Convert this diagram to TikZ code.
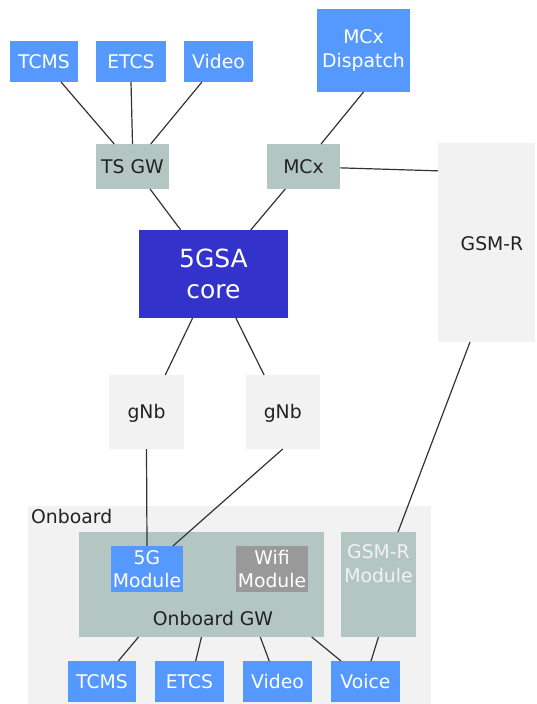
\documentclass[tikz,border=0pt]{standalone}
\usepackage{fontspec}
\setmainfont{DejaVu Sans}
\usetikzlibrary{calc}
\definecolor{boxblue}{HTML}{5599FF}
\definecolor{coreblue}{HTML}{3333CC}
\definecolor{gwgreen}{HTML}{B4C6C2}
\definecolor{lightbg}{HTML}{F2F2F2}
\definecolor{wifigray}{HTML}{999999}
\definecolor{linegray}{HTML}{333333}
\definecolor{darktext}{HTML}{222222}
\newcommand\bpt[3]{($(#1.#2 west)!#3!(#1.#2 east)$)}
\tikzset{
  box/.style={rectangle, inner sep=0pt, outer sep=0pt, align=center,
    font=\fontsize{18.8}{23.5}\selectfont},
  bluebox/.style={box, fill=boxblue, text=white},
  graybox/.style={box, fill=gwgreen, text=darktext},
  lightbox/.style={box, fill=lightbg, text=darktext},
  one/.style={text height=13.6pt, text depth=0pt},
  conn/.style={draw=linegray, line width=1.2pt},
  lbl/.style={inner sep=0pt, font=\fontsize{18.8}{23.5}\selectfont}
}
\begin{document}
\begin{tikzpicture}[x=1pt,y=-1pt]
\useasboundingbox (0,0) rectangle (536,704);
% top row
\node[bluebox, one, minimum width=68, minimum height=41] (tcmsA) at (44,61.5) {TCMS};
\node[bluebox, one, minimum width=70, minimum height=41] (etcsA) at (131,61.5) {ETCS};
\node[bluebox, one, minimum width=69, minimum height=41] (videoA) at (218.5,61.5) {Video};
\node[bluebox, minimum width=93, minimum height=83] (mcxd) at (363.5,50.5) {MCx\\Dispatch};
% gateways
\node[graybox, one, minimum width=73, minimum height=45] (tsgw) at (132.5,166.5) {TS GW};
\node[graybox, one, minimum width=73, minimum height=45] (mcx) at (303.5,166.5) {MCx};
\node[lightbox, minimum width=97, minimum height=199] (gsmr) at (486.5,242.5) {};
\node[lbl, text=darktext, anchor=base] (gsmrt) at (492,250) {GSM-R};
% core
\node[box, fill=coreblue, text=white, font=\fontsize{25}{31}\selectfont,
      minimum width=149, minimum height=88] (core) at (213.5,274) {5GSA\\core};
% gNbs
\node[lightbox, one, minimum width=75, minimum height=74] (gnbA) at (146.5,412) {gNb};
\node[lightbox, one, minimum width=74.5, minimum height=74] (gnbB) at (282.75,412) {gNb};
% onboard
\node[box, fill=lightbg, minimum width=403, minimum height=198] (onboard) at (229.5,605) {};
\node[lbl, text=darktext, anchor=base west] (onboardt) at (31,523) {Onboard};
\node[graybox, minimum width=245, minimum height=105] (gw) at (201.5,584.5) {};
\node[lbl, text=darktext, anchor=base] (gwt) at (213,625) {Onboard GW};
\node[bluebox, minimum width=72, minimum height=46] (fiveg) at (147,569) {5G\\Module};
\node[box, fill=wifigray, text=white, minimum width=72, minimum height=46] (wifi) at (272,569) {Wifi\\Module};
\node[graybox, minimum width=75, minimum height=105] (gsmrmod) at (378.5,584.5) {};
\node[lbl, text=lightbg, anchor=north, align=center] (gsmrmodt) at ($(gsmrmod.north)+(0,12.5)$) {GSM-R\\Module};
% bottom row
\node[bluebox, one, minimum width=68, minimum height=41] (tcmsB) at (102,681.5) {TCMS};
\node[bluebox, one, minimum width=69, minimum height=41] (etcsB) at (189.5,681.5) {ETCS};
\node[bluebox, one, minimum width=69, minimum height=41] (videoB) at (277.5,681.5) {Video};
\node[bluebox, one, minimum width=69, minimum height=41] (voice) at (365.5,681.5) {Voice};
% connectors
\draw[conn] \bpt{tcmsA}{south}{0.75} -- \bpt{tsgw}{north}{0.25};
\draw[conn] \bpt{etcsA}{south}{0.5} -- \bpt{tsgw}{north}{0.5};
\draw[conn] \bpt{videoA}{south}{0.26} -- \bpt{tsgw}{north}{0.75};
\draw[conn] \bpt{mcxd}{south}{0.5} -- \bpt{mcx}{north}{0.74};
\draw[conn] ($(mcx.north east)!0.53!(mcx.south east)$) -- ($(gsmr.north west)!0.14!(gsmr.south west)$);
\draw[conn] \bpt{tsgw}{south}{0.74} -- \bpt{core}{north}{0.28};
\draw[conn] \bpt{mcx}{south}{0.25} -- \bpt{core}{north}{0.75};
\draw[conn] \bpt{core}{south}{0.36} -- \bpt{gnbA}{north}{0.75};
\draw[conn] \bpt{core}{south}{0.65} -- \bpt{gnbB}{north}{0.25};
\draw[conn] \bpt{gsmr}{south}{0.33} -- \bpt{gsmrmod}{north}{0.76};
\draw[conn] \bpt{gnbA}{south}{0.5} -- \bpt{fiveg}{north}{0.5};
\draw[conn] \bpt{gnbB}{south}{0.5} -- \bpt{fiveg}{north}{0.86};
\draw[conn] \bpt{gw}{south}{0.243} -- \bpt{tcmsB}{north}{0.74};
\draw[conn] \bpt{gw}{south}{0.5} -- \bpt{etcsB}{north}{0.59};
\draw[conn] \bpt{gw}{south}{0.74} -- \bpt{videoB}{north}{0.38};
\draw[conn] \bpt{gw}{south}{0.95} -- \bpt{voice}{north}{0.145};
\draw[conn] \bpt{gsmrmod}{south}{0.5} -- \bpt{voice}{north}{0.58};
\end{tikzpicture}
\end{document}
